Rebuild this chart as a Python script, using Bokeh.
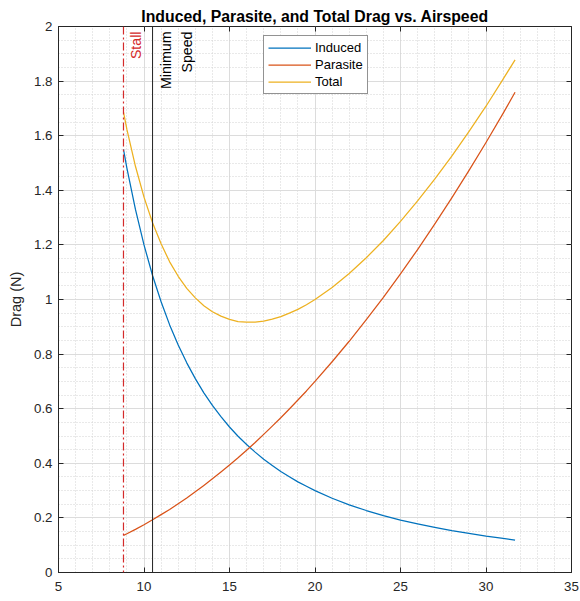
from math import pi
from bokeh.plotting import figure
from bokeh.models import (Range1d, SingleIntervalTicker, NumeralTickFormatter, Span,
                          LinearAxis, Legend, LegendItem)
from bokeh.core.properties import value
from bokeh.embed import file_html
from bokeh.resources import INLINE

# ---- data ----
airspeed = [8.8, 9, 9.5, 10, 10.5, 11, 11.5, 12, 12.5, 13, 13.5, 14, 14.5, 15, 15.5, 16,
            16.5, 17, 17.5, 18, 18.5, 19, 19.5, 20, 21, 22, 23, 24, 25, 26, 27, 28, 29,
            30, 31, 31.7]
induced = [1.550, 1.481, 1.330, 1.200, 1.088, 0.992, 0.907, 0.833, 0.768, 0.710, 0.658,
           0.612, 0.571, 0.533, 0.499, 0.469, 0.441, 0.415, 0.392, 0.370, 0.351, 0.332,
           0.316, 0.300, 0.272, 0.248, 0.227, 0.208, 0.192, 0.178, 0.165, 0.153, 0.143,
           0.133, 0.125, 0.119]
parasite = [0.136, 0.142, 0.158, 0.175, 0.193, 0.212, 0.231, 0.252, 0.273, 0.296, 0.319,
            0.343, 0.368, 0.394, 0.420, 0.448, 0.476, 0.506, 0.536, 0.567, 0.599, 0.632,
            0.665, 0.700, 0.772, 0.847, 0.926, 1.008, 1.094, 1.183, 1.276, 1.372, 1.472,
            1.575, 1.682, 1.759]
total = [1.686, 1.623, 1.488, 1.375, 1.281, 1.204, 1.138, 1.085, 1.041, 1.006, 0.977,
         0.955, 0.939, 0.927, 0.919, 0.917, 0.917, 0.921, 0.928, 0.937, 0.950, 0.964,
         0.981, 1.000, 1.044, 1.095, 1.153, 1.216, 1.286, 1.361, 1.441, 1.525, 1.615,
         1.708, 1.807, 1.878]
series_names = ["Induced", "Parasite", "Total"]
series_colors = ["#0072BD", "#D95319", "#EDB120"]
stall_speed = 8.8
min_speed = 10.5
stall_label = "Stall"
min_label = "Minimum\nSpeed"
title_text = "Induced, Parasite, and Total Drag vs. Airspeed"
y_label = "Drag (N)"

FONT = "Liberation Sans"
AXC = "#262626"
STALL_C = "#d42a2a"

p = figure(width=580, height=601, output_backend="svg", toolbar_location=None,
           x_range=Range1d(5, 35), y_range=Range1d(0, 2),
           min_border_left=58, min_border_right=9, min_border_top=26, min_border_bottom=29)
p.background_fill_color = "white"
p.border_fill_color = "white"
p.outline_line_color = AXC
p.outline_line_width = 1

p.title.text = title_text
p.title.align = "center"
p.title.text_font = FONT
p.title.text_font_size = "15.8px"
p.title.text_font_style = "bold"
p.title.text_color = "black"
p.title.standoff = 4

p.xaxis.ticker = SingleIntervalTicker(interval=5, num_minor_ticks=5)
p.yaxis.ticker = SingleIntervalTicker(interval=0.2, num_minor_ticks=4)
p.yaxis.formatter = NumeralTickFormatter(format="0.[0]")
p.yaxis.axis_label = y_label

for ax in (p.xaxis[0], p.yaxis[0]):
    ax.major_tick_in = 5
    ax.major_tick_out = 0
    ax.minor_tick_in = 0
    ax.minor_tick_out = 0
    ax.axis_line_color = AXC
    ax.major_tick_line_color = AXC
    ax.major_label_text_font = FONT
    ax.major_label_text_font_size = "13.3px"
    ax.major_label_text_color = AXC
    ax.axis_label_text_font = FONT
    ax.axis_label_text_font_size = "14.5px"
    ax.axis_label_text_font_style = "normal"
    ax.axis_label_text_color = AXC
p.xaxis.major_label_standoff = 9
p.yaxis.major_label_standoff = 6
p.yaxis.axis_label_standoff = 7

# ticks on the top and right edges (box on), no labels
for side, tk in (("above", SingleIntervalTicker(interval=5, num_minor_ticks=5)),
                 ("right", SingleIntervalTicker(interval=0.2, num_minor_ticks=4))):
    ax = LinearAxis(ticker=tk, major_label_text_font_size="0px", major_label_text_color=None,
                    major_tick_in=5, major_tick_out=0, minor_tick_in=0, minor_tick_out=0,
                    axis_line_color=None, major_tick_line_color=AXC, major_label_standoff=0)
    p.add_layout(ax, side)

for g in (p.xgrid[0], p.ygrid[0]):
    g.grid_line_color = "#dcdcdc"
    g.grid_line_width = 1
    g.minor_grid_line_color = "#d2d2d2"
    g.minor_grid_line_dash = "1 2"
    g.minor_grid_line_width = 1

# vertical reference lines
p.add_layout(Span(location=stall_speed, dimension="height", line_color=STALL_C,
                  line_width=1.2, line_dash="8 3 2 3"))
p.add_layout(Span(location=min_speed, dimension="height", line_color="#222222",
                  line_width=1))

renderers = []
for ys, c in zip((induced, parasite, total), series_colors):
    renderers.append(p.line(airspeed, ys, line_color=c, line_width=1.25, line_join="round"))

p.text(x=[stall_speed], y=[2], text=[stall_label], angle=pi / 2, text_align="right",
       text_baseline="top", x_offset=5, y_offset=5, text_color=STALL_C,
       text_font=value(FONT), text_font_size="14.2px")
p.text(x=[min_speed], y=[2], text=[min_label], angle=pi / 2, text_align="right",
       text_baseline="top", x_offset=5, y_offset=5, text_color="black",
       text_font=value(FONT), text_font_size="14.2px", text_line_height=1.34)

legend = Legend(items=[LegendItem(label=n, renderers=[r]) for n, r in zip(series_names, renderers)],
                location=(205, 478), orientation="vertical")
legend.glyph_width = 43
legend.glyph_height = 15
legend.label_height = 15
legend.label_width = 48
legend.label_standoff = 4
legend.spacing = 2
legend.padding = 4
legend.margin = 0
legend.border_line_color = AXC
legend.border_line_width = 1
legend.background_fill_color = "white"
legend.background_fill_alpha = 1
legend.label_text_font = FONT
legend.label_text_font_size = "13px"
legend.label_text_color = "black"
p.add_layout(legend)

open("out.html", "w").write(file_html(p, INLINE))
